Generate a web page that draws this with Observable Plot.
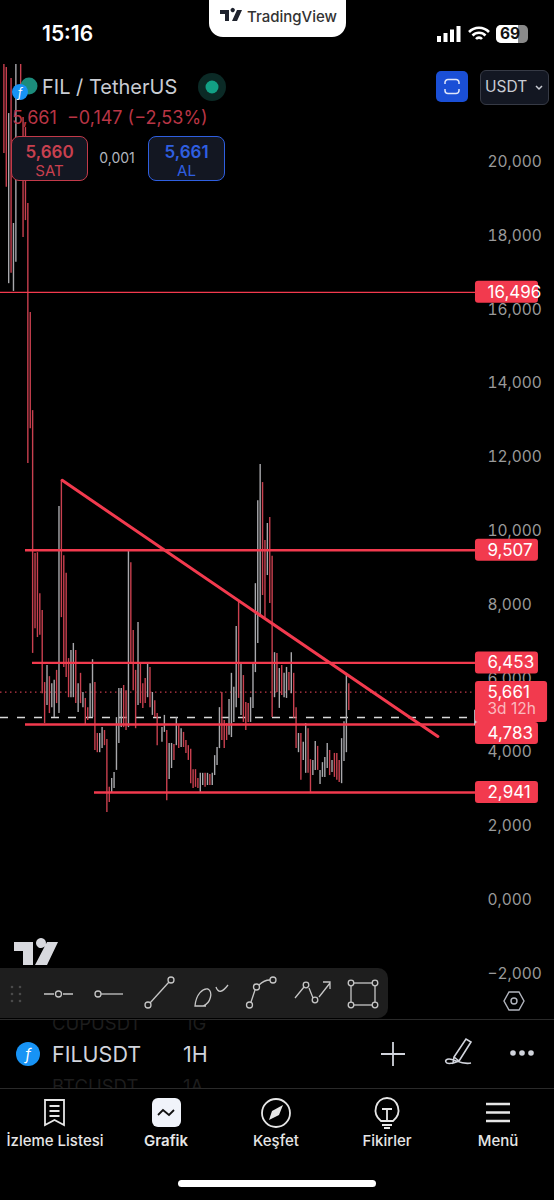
<!DOCTYPE html>
<html lang="tr">
<head>
<meta charset="utf-8">
<script src="https://cdn.jsdelivr.net/npm/d3@7"></script>
<script src="https://cdn.jsdelivr.net/npm/@observablehq/plot@0.6"></script>
<style>
  html,body{margin:0;padding:0;background:#000;}
  #root{position:relative;width:554px;height:1200px;overflow:hidden;background:#000;font-family:Inter,"Noto Sans",sans-serif;color:#d1d4dc;}
  #chart{display:block;height:1019px;}
  #chart svg{display:block;}
  .a{position:absolute;white-space:nowrap;line-height:1;}
  .c{transform:translateX(-50%);}
  svg.i{position:absolute;overflow:visible;fill:none;}
  #foot{position:relative;height:181px;}
  .nav{position:absolute;top:114px;transform:translateX(-50%);font-size:15px;font-weight:500;color:#e6e6e6;white-space:nowrap;line-height:16px;}
  .box{position:absolute;top:136px;width:75px;height:43px;border-radius:8px;background:#131722;border:1.5px solid;text-align:center;}
  .box b{display:block;font-size:17px;font-weight:600;margin-top:5px;line-height:20px;}
  .box span{display:block;font-size:15px;line-height:18px;}
</style>
</head>
<body>
<div id="root">
  <div id="chart"></div>

  <!-- status bar -->
  <div class="a" style="left:42px;top:23px;font-size:21px;font-weight:600;color:#fff;">15:16</div>
  <div class="a" style="left:209px;top:0;width:137px;height:37px;background:#fff;border-radius:0 0 14px 14px;"></div>
  <svg class="i" style="left:220px;top:10px" width="22" height="12"><path d="M0 0h9v11H5V4H0zM10.5 0a2.2 2.2 0 1 1 0 .1zM17 0h5l-5 11h-5z" style="fill:#1e222d"/></svg>
  <div class="a" style="left:247px;top:9px;font-size:15px;font-weight:500;color:#333;">TradingView</div>
  <svg class="i" style="left:437px;top:26px" width="24" height="16"><path d="M0 10h4v6H0zM6.5 7h4v9h-4zM13 3.500h4v12.500h-4zM19.500 0h4v16h-4z" style="fill:#fff"/></svg>
  <svg class="i" style="left:468px;top:26px" width="22" height="16"><path d="M1 6a14 14 0 0 1 20 0M4.500 9.500a9 9 0 0 1 13 0M8 13a4 4 0 0 1 6 0" stroke="#fff" stroke-width="2.600"/></svg>
  <div class="a" style="left:496px;top:25px;width:32px;height:18px;border-radius:5px;background:#8a8a8a;"></div>
  <div class="a" style="left:496px;top:25px;width:22px;height:18px;border-radius:5px 0 0 5px;background:#fff;"></div>
  <div class="a" style="left:500px;top:26px;font-size:15.500px;font-weight:700;color:#111;">69</div>

  <!-- symbol header -->
  <svg class="i" style="left:10px;top:76px" width="30" height="30">
    <circle cx="19" cy="10" r="8.500" style="fill:#1c8c7c"/><circle cx="10" cy="16" r="8" style="fill:#1793f5"/>
    <text x="10" y="20.500" font-size="12" font-style="italic" style="fill:#fff" text-anchor="middle">f</text>
  </svg>
  <div class="a" style="left:42px;top:77px;font-size:20px;color:#c9ccd3;">FIL / TetherUS</div>
  <svg class="i" style="left:198px;top:73px" width="28" height="28"><circle cx="14" cy="14" r="14" style="fill:#0b2a26"/><circle cx="14" cy="14" r="6.500" style="fill:#12a085"/></svg>
  <div class="a" style="left:12px;top:109px;font-size:18px;color:#b93545;">5,661 &nbsp;−0,147 (−2,53%)</div>
  <div class="box" style="left:11px;border-color:#c23a4a;color:#c8404f;"><b>5,660</b><span>SAT</span></div>
  <div class="a c" style="left:117px;top:151px;font-size:14px;color:#b2b5be;">0,001</div>
  <div class="box" style="left:148px;border-color:#2f5fe0;color:#2f5fe0;"><b>5,661</b><span>AL</span></div>
  <div class="a" style="left:436px;top:71px;width:32px;height:31px;border-radius:5px;background:#1a4fd6;"></div>
  <svg class="i" style="left:445px;top:79px" width="14" height="15"><path d="M0 5V3.500a3 3 0 0 1 3-3h8a3 3 0 0 1 3 3V5M0 10v1.500a3 3 0 0 0 3 3h8a3 3 0 0 0 3-3V10" stroke="#dfe6fa" stroke-width="1.500"/></svg>
  <div class="a" style="left:479.500px;top:70px;width:67px;height:33px;border-radius:6px;background:#131722;border:1.500px solid #363a45;"></div>
  <div class="a" style="left:485px;top:79px;font-size:15.500px;color:#c9ccd3;">USDT</div>
  <svg class="i" style="left:535px;top:85px" width="8" height="5"><path d="M1 1l3 3 3-3" stroke="#c9ccd3" stroke-width="1.500"/></svg>

  <!-- watermark and toolbar -->
  <svg class="i" style="left:14px;top:942px" width="44" height="23"><path d="M0 0h19v23H9V9H0zM22 1a5 5 0 1 1 0 .1zM33 0h11L33 23H21z" style="fill:#d8d9de"/></svg>
  <div class="a" style="left:0;top:968px;width:388px;height:50px;border-radius:0 10px 10px 0;background:#1e1e1e;"></div>
  <svg class="i" style="left:0;top:968px" width="388" height="50" stroke="#c6c6c6" stroke-width="1.300">
    <g style="fill:#4a4a4a" stroke="none"><circle cx="12" cy="19" r="1.300"/><circle cx="20" cy="19" r="1.300"/><circle cx="12" cy="26" r="1.300"/><circle cx="20" cy="26" r="1.300"/><circle cx="12" cy="33" r="1.300"/><circle cx="20" cy="33" r="1.300"/></g>
    <path d="M44 26h10M63 26h10"/><circle cx="58.500" cy="26" r="3"/>
    <circle cx="98" cy="26" r="3"/><path d="M101 26h22"/>
    <circle cx="148" cy="37" r="3"/><circle cx="171" cy="12" r="3"/><path d="M150 35l19-21"/>
    <path d="M195 38c1-12 8-18 13-17 5 3 3 14-5 17zM195 38h11M216 19c2 6 6 6 12-2"/>
    <circle cx="249.500" cy="37" r="3"/><circle cx="256.500" cy="19" r="3"/><circle cx="273" cy="12" r="3"/><path d="M251 34l4-12M259 17c3-3 7-5 11-5"/>
    <path d="M295 30l9-11M309 20l4 10M319 29l11-14M323 14h7v7"/><circle cx="306" cy="17" r="2.800"/><circle cx="315" cy="32" r="2.800"/>
    <rect x="351" y="15" width="24" height="22"/><g style="fill:#1e1e1e"><circle cx="351" cy="15" r="2.800"/><circle cx="375" cy="15" r="2.800"/><circle cx="351" cy="37" r="2.800"/><circle cx="375" cy="37" r="2.800"/></g>
  </svg>
  <svg class="i" style="left:504px;top:991px" width="20" height="20" stroke="#b2b5be" stroke-width="1.400"><path d="M5 1h10l5 9-5 9H5L0 10z"/><circle cx="10" cy="10" r="3"/></svg>

  <!-- footer -->
  <div id="foot">
    <div class="a" style="left:0;top:0;width:554px;height:70px;overflow:hidden;border-top:1px solid #2a2a2a;border-bottom:1px solid #2a2a2a;box-sizing:border-box;">
      <div class="a" style="left:52px;top:-6px;font-size:18.500px;color:#1d1d1d;">CUPUSDT</div>
      <div class="a" style="left:185px;top:-6px;font-size:18.500px;color:#1d1d1d;">1G</div>
      <div class="a" style="left:52px;top:57px;font-size:18.500px;color:#1d1d1d;">BTCUSDT</div>
      <div class="a" style="left:183px;top:57px;font-size:18.500px;color:#1d1d1d;">1A</div>
    </div>
    <svg class="i" style="left:16px;top:23px" width="24" height="24"><circle cx="12" cy="12" r="12" style="fill:#1793f5"/><text x="12" y="17.500" font-size="15" font-style="italic" style="fill:#fff" text-anchor="middle">f</text></svg>
    <div class="a" style="left:52px;top:25px;font-size:21.500px;font-weight:400;color:#d1d4dc;">FILUSDT</div>
    <div class="a" style="left:183px;top:25px;font-size:21.500px;font-weight:400;color:#d1d4dc;">1H</div>
    <svg class="i" style="left:381px;top:23px" width="24" height="24" stroke="#d1d4dc" stroke-width="1.800"><path d="M12 0v24M0 12h24"/></svg>
    <svg class="i" style="left:444px;top:18px" width="28" height="30" stroke="#d1d4dc" stroke-width="1.600"><path d="M10 20L22 2l5 3-12 19-6 2zM10 20l5 4M9 26c-9 2-9-4-4-4 6 0 12 6 22 4"/></svg>
    <svg class="i" style="left:510px;top:31px" width="24" height="6"><g style="fill:#d1d4dc"><circle cx="3" cy="3" r="2.800"/><circle cx="12" cy="3" r="2.800"/><circle cx="21" cy="3" r="2.800"/></g></svg>

    <svg class="i" style="left:44px;top:80px" width="22" height="28" stroke="#e6e6e6" stroke-width="1.800"><path d="M1 1h19v25l-9.500-5L1 26zM5.500 7h10M5.500 12h10M5.500 17h10"/></svg>
    <div class="a" style="left:152px;top:79px;width:29px;height:29px;border-radius:6px;background:#f0f3fa;"></div>
    <svg class="i" style="left:158px;top:89px" width="17" height="9" stroke="#111" stroke-width="1.800"><path d="M0 7l5-5 6 5 5-5"/></svg>
    <svg class="i" style="left:261px;top:79px" width="30" height="30" stroke="#e6e6e6" stroke-width="1.800"><circle cx="15" cy="15" r="14"/><path d="M8 22l3-9 11-6-4 10z" style="fill:#e6e6e6" stroke="none"/></svg>
    <svg class="i" style="left:374px;top:78px" width="26" height="33" stroke="#e6e6e6" stroke-width="1.800"><path d="M7 24C-3 16 2 1 13 1s16 15 6 23zM8 12h10M13 12v12M8 28h10M10 31h6"/></svg>
    <svg class="i" style="left:486px;top:83px" width="24" height="21" stroke="#e6e6e6" stroke-width="2.400"><path d="M0 2h24M0 10.500h24M0 19h24"/></svg>
    <div class="nav" style="left:55px;">İzleme Listesi</div>
    <div class="nav" style="left:166px;font-weight:600;">Grafik</div>
    <div class="nav" style="left:276px;">Keşfet</div>
    <div class="nav" style="left:387px;">Fikirler</div>
    <div class="nav" style="left:498px;">Menü</div>
    <div class="a" style="left:178px;top:161px;width:198px;height:7px;border-radius:4px;background:#fff;"></div>
  </div>
</div>

<script>
// Hourly bars, index 1..145 (null = no bar drawn at this slot)
const barHigh = [22.67,22.59,21.34,22.29,18.36,22.67,null,22.67,21.23,20.96,18.90,15.95,13.29,9.42,9.44,8.33,7.87,5.92,6.38,6.08,5.89,5.98,6.25,10.69,11.40,9.36,8.88,6.57,6.79,6.98,6.79,5.89,6.17,5.65,5.49,5.24,5.89,6.54,5.92,4.54,4.54,4.70,4.62,4.38,3.08,3.32,3.48,4.97,5.76,5.76,5.84,5.70,9.50,9.17,7.33,6.25,7.55,6.41,5.89,6.03,6.41,6.33,5.65,5.43,5.08,null,4.70,5.03,4.62,4.27,4.27,4.24,4.97,4.76,4.67,4.57,4.35,4.21,4.11,3.56,3.56,3.32,3.46,3.46,3.46,3.46,3.43,3.46,3.94,4.16,5.24,5.65,4.89,4.81,5.46,6.17,5.79,7.44,8.09,6.46,6.11,5.38,5.35,5.51,6.41,8.60,10.85,11.83,11.34,9.77,10.23,10.39,9.34,6.73,6.71,6.30,6.38,6.17,6.33,6.19,6.73,6.17,5.24,4.54,4.54,4.30,4.81,4.67,3.83,3.81,4.32,4.19,3.54,3.75,3.89,4.27,4.08,3.81,4.00,4.00,3.81,4.40,4.86,6.14,5.89];
const barLow = [20.26,19.34,16.73,17.01,16.52,17.31,null,21.70,17.98,18.44,11.86,12.80,6.71,7.38,7.14,7.20,5.62,4.81,5.30,5.08,5.24,4.97,5.35,5.08,7.68,6.33,6.06,5.51,5.51,5.51,5.35,5.11,5.35,5.24,4.76,4.89,4.97,4.97,4.08,4.02,4.02,4.13,4.21,2.40,2.67,2.94,3.05,3.54,4.27,4.70,4.70,4.62,4.70,6.44,5.70,4.67,5.30,5.35,5.22,5.35,5.51,5.24,5.03,4.97,4.21,null,4.30,4.57,2.72,3.29,3.59,3.81,4.21,4.13,4.16,4.16,4.00,3.81,3.18,3.05,3.08,3.05,2.94,3.13,3.08,3.13,3.13,3.13,3.40,3.67,4.13,4.35,4.13,4.35,4.49,4.43,4.84,5.24,5.49,5.03,4.84,4.62,4.84,4.84,5.22,6.19,6.98,7.68,8.28,7.68,8.82,8.06,4.97,5.51,5.65,5.22,5.57,5.51,5.49,5.70,5.62,4.95,4.13,4.02,3.27,3.81,3.46,3.46,2.91,3.40,3.54,3.54,3.16,3.35,3.35,3.59,3.40,3.48,3.35,3.27,3.21,3.18,3.78,4.02,5.16];
// Indexes of the bars that closed down (red); every other bar is grey
const barRed = new Set([1,2,4,8,9,10,11,12,13,14,15,16,17,18,20,23,25,26,27,28,31,33,35,36,39,40,43,44,45,51,52,54,55,56,58,59,60,62,64,65,69,72,74,76,77,78,79,80,81,82,85,87,92,93,94,99,101,102,103,109,110,112,113,115,117,120,122,123,125,128,129,132,137,139,140,141,145]);

// Price levels drawn on the chart
const levelPrice = [16.496, 9.507, 6.453, 4.783, 2.941];
const levelStart = [-0.42, 10.02, 12.94, 10.02, 38.83];
const tagPrice   = [16.496, 9.507, 6.453, 4.54, 2.941];

const trendBar   = [25.34, 182.2];
const trendPrice = [11.40, 4.46];

const lastPrice = 5.661;
const countdown = "3d 12h";
const crossPrice = 4.973;
const yTicks = [-2,0,2,4,6,8,10,12,14,16,18,20];

const comma = v => d3.format(".3f")(v).replace(".", ",");

const bars = barHigh.map((h, k) => ({i: k + 1, high: h, low: barLow[k], red: barRed.has(k + 1)})).filter(d => d.high !== null);
const levels = levelPrice.map((p, k) => ({price: p, start: levelStart[k], tag: tagPrice[k]}));
const trend = trendBar.map((b, k) => ({bar: b, price: trendPrice[k]}));

const lineEnd = 197.9, axisBar = 202.92, tagEnd = 224.2, lastTagEnd = 228;
const hotRed = "#f23a4e";

const chart = Plot.plot({
  width: 554, height: 1019,
  marginLeft: 0, marginRight: 67, marginTop: 0, marginBottom: 0,
  style: {background: "#000", fontFamily: "Inter, 'Noto Sans', sans-serif"},
  x: {domain: [-0.418, axisBar], axis: null},
  y: {domain: [-3.211, 24.404], axis: null},
  marks: [
    Plot.axisY(yTicks, {anchor: "right", tickSize: 0, tickPadding: 0, tickFormat: comma, label: null, fontSize: 15.5, fill: "#9a9a9a", textAnchor: "start", dy: -1}),
    Plot.ruleY([lastPrice], {x1: -0.42, x2: lineEnd, y: d => d, stroke: "#c23a4a", strokeWidth: 1.2, strokeDasharray: "1.5,3.5"}),
    Plot.ruleY([crossPrice], {x1: -0.42, x2: lineEnd, y: d => d, stroke: "#d8d8d8", strokeWidth: 1.4, strokeDasharray: "8,9"}),
    Plot.ruleX(bars, {x: "i", y1: "low", y2: "high", stroke: d => d.red ? "#c9404f" : "#a8a8ac", strokeWidth: 1.4}),
    Plot.ruleY(levels.slice(0, 1), {x1: "start", x2: lineEnd, y: "price", stroke: hotRed, strokeWidth: 1.2}),
    Plot.ruleY(levels.slice(1), {x1: "start", x2: lineEnd, y: "price", stroke: hotRed, strokeWidth: 2.4}),
    Plot.line(trend, {x: "bar", y: "price", stroke: hotRed, strokeWidth: 3}),
    Plot.dot([crossPrice], {x: 199.3, y: d => d, symbol: "triangle", rotate: 90, r: 6, fill: "#d1d4dc"}),
    Plot.rect([lastPrice], {x1: lineEnd, x2: lastTagEnd, y1: 4.84, y2: 5.95, fill: hotRed, rx: 3}),
    Plot.text([lastPrice], {x: axisBar, y: d => d, text: comma, textAnchor: "start", fill: "#fff", fontSize: 17}),
    Plot.text([countdown], {x: axisBar, y: 5.2, text: d => d, textAnchor: "start", fill: "#fbb9bf", fontSize: 15.5}),
    Plot.rect(levels, {x1: lineEnd, x2: tagEnd, y1: d => d.tag - 0.298, y2: d => d.tag + 0.298, fill: hotRed, rx: 3}),
    Plot.text(levels, {x: axisBar, y: "tag", text: d => comma(d.price), textAnchor: "start", fill: "#fff", fontSize: 17})
  ]
});
document.getElementById("chart").append(chart);
</script>
</body>
</html>
